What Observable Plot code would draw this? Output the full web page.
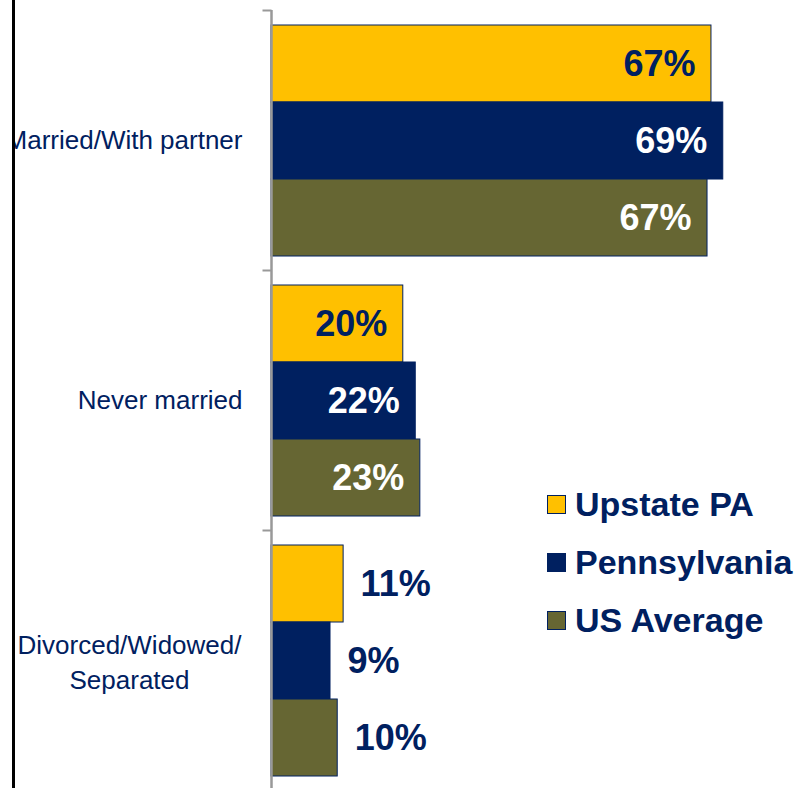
<!DOCTYPE html>
<html>
<head>
<meta charset="utf-8">
<script src="https://cdn.jsdelivr.net/npm/d3@7"></script>
<script src="https://cdn.jsdelivr.net/npm/@observablehq/plot@0.6"></script>
<style>
  body { margin: 0; background: #fff; }
  #wrap { position: relative; width: 808px; height: 788px; overflow: hidden; font-family: "Liberation Sans", Arial, sans-serif; }
  #clip { position: absolute; left: 15px; top: 0; width: 793px; height: 788px; overflow: hidden; }
  #border { position: absolute; left: 12px; top: 0; width: 3px; height: 788px; background: #000; }
  #legend { position: absolute; left: 547px; top: 475px; }
  .item { display: flex; align-items: center; height: 58px; }
  .sw { width: 19px; height: 19px; box-sizing: border-box; border: 1.5px solid #002060; margin-right: 9px; }
  .lt { font-weight: bold; font-size: 34px; color: #002060; white-space: nowrap; }
</style>
</head>
<body>
<div id="wrap">
  <div id="clip"></div>
  <div id="border"></div>
  <div id="legend"></div>
</div>
<script>
const groups = ["Married/With partner", "Never married", "Divorced/Widowed/Separated"];
const groupLabels = ["Married/With partner", "Never married", "Divorced/Widowed/\nSeparated"];
const series = ["Upstate PA", "Pennsylvania", "US Average"];
const upstate = [67.1, 20.1, 11.0];
const pennsylvania = [68.9, 22.0, 9.0];
const usAverage = [66.5, 22.7, 10.1];
const colors = ["#FFC000", "#002060", "#666633"];
const navy = "#002060";

const seriesValues = [upstate, pennsylvania, usAverage];
const data = groups.flatMap((g, i) => series.map((s, j) => ({group: g, series: s, value: seriesValues[j][i]})));

const inside = d => d.value > 15;

const chart = Plot.plot({
  width: 793,
  height: 791,
  marginLeft: 256,
  marginRight: 0,
  marginTop: 9,
  marginBottom: 0,
  style: {fontFamily: "'Liberation Sans', Arial, sans-serif", background: "transparent", overflow: "visible"},
  x: {domain: [0, 81.9], axis: null},
  y: {domain: series, axis: null, paddingInner: 0, paddingOuter: 0.1667},
  fy: {domain: groups, axis: null, padding: 0},
  color: {domain: series, range: colors},
  marks: [
    Plot.barX(data, {fy: "group", y: "series", x: "value", fill: "series", stroke: navy, strokeWidth: 1}),
    Plot.ruleX([0], {stroke: "#999", strokeWidth: 2.5}),
    Plot.frame({insetLeft: -9, stroke: "#999", strokeWidth: 2, strokeDasharray: "9 100000"}),
    Plot.text(data.filter(inside), {
      fy: "group", y: "series", x: "value", text: d => Math.round(d.value) + "%",
      textAnchor: "end", dx: -16, fontSize: 36, fontWeight: "bold",
      fill: d => d.series === "Upstate PA" ? navy : "#fff"
    }),
    Plot.text(data.filter(d => !inside(d)), {
      fy: "group", y: "series", x: "value", text: d => Math.round(d.value) + "%",
      textAnchor: "start", dx: 17, fontSize: 36, fontWeight: "bold", fill: navy
    }),
    Plot.text(groups.slice(0, 2), {
      fy: d => d, text: (d, i) => groupLabels[i], frameAnchor: "left",
      textAnchor: "end", dx: -29, fontSize: 26, fill: navy
    }),
    Plot.text(groups.slice(2), {
      fy: d => d, text: () => groupLabels[2], frameAnchor: "left",
      textAnchor: "middle", dx: -142, dy: 0, lineHeight: 1.36, fontSize: 26, fill: navy
    })
  ]
});
document.getElementById("clip").appendChild(chart);

const legend = document.getElementById("legend");
series.forEach((s, i) => {
  const item = document.createElement("div");
  item.className = "item";
  const sw = document.createElement("div");
  sw.className = "sw";
  sw.style.background = colors[i];
  const lt = document.createElement("div");
  lt.className = "lt";
  lt.textContent = s;
  item.appendChild(sw);
  item.appendChild(lt);
  legend.appendChild(item);
});
</script>
</body>
</html>
